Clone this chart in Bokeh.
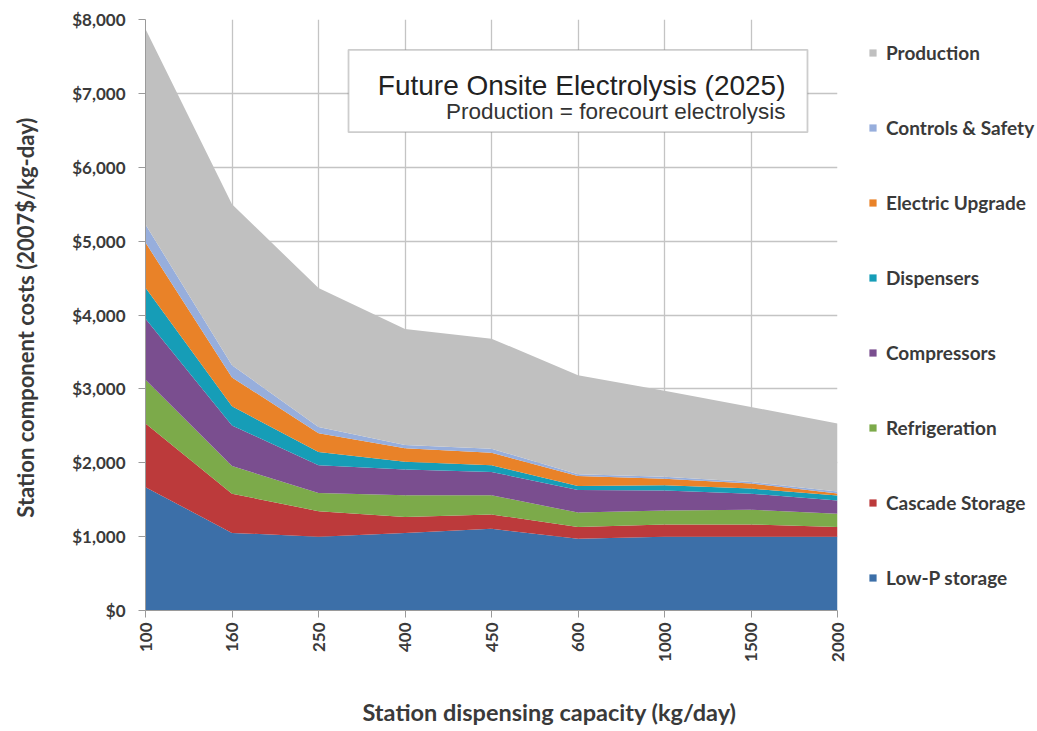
import math
from bokeh.plotting import figure
from bokeh.models import (ColumnDataSource, Range1d, FixedTicker, NumeralTickFormatter,
                          Legend, LegendItem, BoxAnnotation, Label, Title)
from bokeh.embed import file_html
from bokeh.resources import INLINE

# ---- data (2007$/kg-day) ----
capacities = ["100", "160", "250", "400", "450", "600", "1000", "1500", "2000"]
low_p_storage    = [1670, 1050, 1000, 1050, 1105, 970, 1000, 1000, 1000]
cascade_storage  = [860, 530, 345, 215, 195, 160, 165, 165, 130]
refrigeration    = [595, 375, 245, 295, 260, 195, 190, 200, 180]
compressors      = [825, 550, 375, 350, 315, 305, 270, 215, 180]
dispensers       = [420, 260, 180, 105, 90, 55, 70, 70, 65]
electric_upgrade = [610, 390, 255, 180, 170, 135, 90, 70, 30]
controls_safety  = [245, 165, 85, 45, 55, 25, 25, 20, 25]
production       = [2645, 2180, 1880, 1570, 1490, 1340, 1165, 1015, 920]

series_names = ["Low-P storage", "Cascade Storage", "Refrigeration", "Compressors",
                "Dispensers", "Electric Upgrade", "Controls & Safety", "Production"]
series_values = [low_p_storage, cascade_storage, refrigeration, compressors,
                 dispensers, electric_upgrade, controls_safety, production]
colors = ["#3C6FA8", "#BC3A3B", "#7CAA4A", "#7A4E8F", "#169DB7", "#E98228", "#97AEDC", "#C0C0C0"]
y_ticks = [0, 1000, 2000, 3000, 4000, 5000, 6000, 7000, 8000]

keys = ["s%d" % i for i in range(len(series_names))]
data = {"x": list(range(len(capacities)))}
for k, v in zip(keys, series_values):
    data[k] = v
source = ColumnDataSource(data)

FONT = "Lato"
TXT = "#3a3a3a"

p = figure(frame_width=692, frame_height=591, output_backend="svg", toolbar_location=None,
           x_range=Range1d(0, len(capacities) - 1), y_range=Range1d(0, 8000),
           min_border_left=145, min_border_top=19, min_border_right=200, min_border_bottom=0)
p.outline_line_color = None
p.background_fill_color = "white"

renderers = p.varea_stack(stackers=keys, x="x", color=colors, source=source)

# axes
p.xaxis.ticker = FixedTicker(ticks=list(range(len(capacities))))
p.xaxis.major_label_overrides = {i: c for i, c in enumerate(capacities)}
p.xaxis.major_label_orientation = math.pi / 2
p.yaxis.ticker = FixedTicker(ticks=y_ticks)
p.yaxis.formatter = NumeralTickFormatter(format="$0,0")
for ax in (p.xaxis, p.yaxis):
    ax.axis_line_color = "#9a9a9a"
    ax.major_tick_line_color = "#9a9a9a"
    ax.minor_tick_line_color = None
    ax.major_tick_out = 7
    ax.major_tick_in = 0
    ax.major_label_text_font = FONT
    ax.major_label_text_font_style = "bold"
    ax.major_label_text_font_size = "17px"
    ax.major_label_text_color = TXT
p.yaxis.major_label_standoff = 13
p.xaxis.major_label_standoff = 5

p.yaxis.axis_label = "Station component  costs (2007$/kg-day)"
p.yaxis.axis_label_text_font = FONT
p.yaxis.axis_label_text_font_style = "bold"
p.yaxis.axis_label_text_font_size = "22px"
p.yaxis.axis_label_text_color = TXT
p.yaxis.axis_label_standoff = 30

p.xgrid.ticker = FixedTicker(ticks=list(range(len(capacities))))
p.ygrid.ticker = FixedTicker(ticks=y_ticks)
for g in (p.xgrid, p.ygrid):
    g.grid_line_color = "#c4c4c4"
    g.grid_line_width = 1.3

# x axis title (offset to the right like the original)
xt = Title(text="Station dispensing capacity (kg/day)", align="left", offset=217,
           text_font=FONT, text_font_style="bold", text_font_size="23.5px", text_color=TXT,
           standoff=63)
p.add_layout(xt, "below")

# title box
box = BoxAnnotation(left=2.347, right=7.653, bottom=6475, top=7590,
                    fill_color="white", fill_alpha=1.0,
                    line_color="#5a5a5a", line_width=1.8)
p.add_layout(box)
p.add_layout(Label(x=7.399, y=7107, text="Future Onsite Electrolysis (2025)",
                   text_align="right", text_baseline="alphabetic",
                   text_font="Liberation Sans", text_font_size="28px", text_color="#222222"))
p.add_layout(Label(x=7.399, y=6755, text="Production = forecourt electrolysis",
                   text_align="right", text_baseline="alphabetic",
                   text_font="Liberation Sans", text_font_size="22.5px", text_color="#333333"))

# legend (top = Production)
items = [LegendItem(label=n, renderers=[r]) for n, r in zip(series_names, renderers)][::-1]
legend = Legend(items=items, location=(31, 21), orientation="vertical",
                glyph_width=9, glyph_height=9, label_height=9, spacing=52,
                padding=0, margin=0, label_standoff=9,
                border_line_color=None, background_fill_alpha=0,
                label_text_font=FONT, label_text_font_style="bold",
                label_text_font_size="19px", label_text_color=TXT)
p.add_layout(legend, "right")

open("out.html", "w").write(file_html(p, INLINE))
